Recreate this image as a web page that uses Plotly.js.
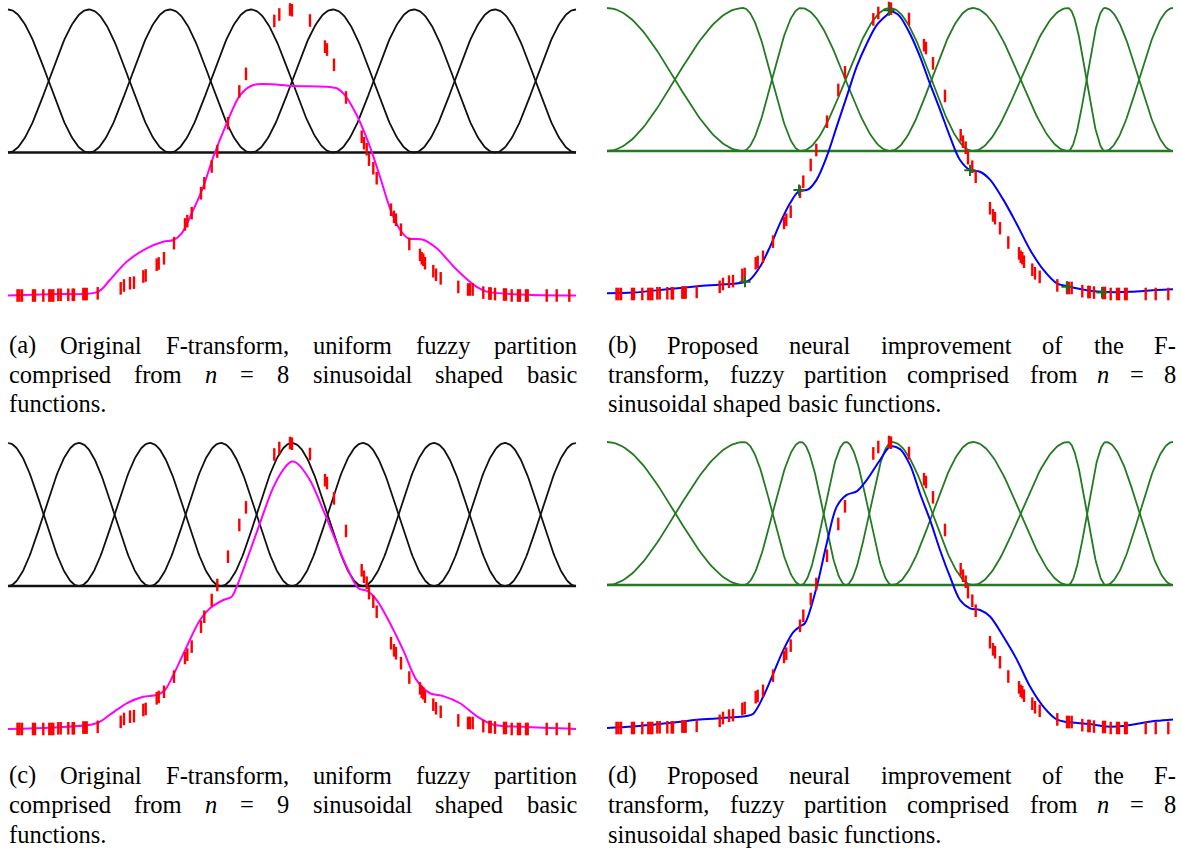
<!DOCTYPE html>
<html>
<head>
<meta charset="utf-8">
<script src="https://cdn.plot.ly/plotly-3.0.1.min.js"></script>
<style>
  html, body { margin: 0; padding: 0; background: #ffffff; }
  #fig { width: 1181px; height: 853px; }
</style>
</head>
<body>
<div id="fig"></div>
<script>
// ---------------- data ----------------
// Measured samples (same signal in every panel)
const sampleX = [9.5, 11.5, 14, 25, 27, 35.3, 41.3, 43.3, 45.3, 50.3, 52.7, 60.3, 64.7, 66, 75.3, 77, 78.7, 89.7,
  112.7, 116, 122, 126, 135.3, 137.7, 148.7, 150.7, 156, 166, 177, 179.3, 183.7, 193, 196.3, 203.7, 209.3, 220, 231.3, 238, 266.3, 271.3, 282, 284,
  302, 317, 319, 326, 338, 353.7, 356, 358.7, 361, 365.3, 368.7, 383, 386, 388, 393, 401.3, 412, 413.7, 415.3, 417, 425.3, 428, 432.7, 450.3,
  460, 462, 464.7, 475.3, 481.3, 482.7, 487, 496, 498, 503.7, 510, 512, 518, 519.7, 538.7, 548.7, 561.3];
const sampleY = [-1, -1, -1, -1, -1, -1, -1, -1, -1, -0.995, -0.995, -0.995, -0.995, -0.995, -0.99, -0.99, -0.99, -0.985,
  -0.95, -0.93, -0.914, -0.91, -0.867, -0.86, -0.785, -0.776, -0.74, -0.634, -0.503, -0.48, -0.424, -0.285, -0.215, -0.098, 0.007, 0.205, 0.427, 0.55, 0.92, 0.965, 1.0, 0.995,
  0.923, 0.74, 0.72, 0.613, 0.385, 0.11, 0.065, 0.023, -0.05, -0.11, -0.18, -0.40, -0.45, -0.47, -0.54, -0.64, -0.716, -0.74, -0.75, -0.774, -0.83, -0.855, -0.88, -0.94,
  -0.958, -0.958, -0.958, -0.98, -0.986, -0.986, -0.99, -0.993, -0.993, -1, -1, -1, -1, -1, -1, -1, -1];

// Partition nodes (peaks of the sinusoidal basic functions)
const nodesA = [0, 81, 162, 243, 325, 406, 487, 568];
const nodesB = [0, 136, 194, 283, 366, 461, 498, 566];
const nodesC = [0, 71, 142, 213, 284, 355, 426, 497, 568];
const nodesD = [0, 137, 194, 239, 285, 366, 461, 499, 566];

// Reconstructed signal, panel (a): original F-transform, n = 8
const fitAx = [0, 45, 90, 102, 118.7, 138.7, 155.3, 165.3, 173.7, 183.7, 195.3, 205.3, 218.7, 232, 245.3, 285.3, 328.7, 337, 348.7, 362, 372, 382, 392, 400.3, 415.3, 428.7, 448.7, 468.7, 478.7, 520, 568];
const fitAy = [-1.0, -0.99, -0.975, -0.89, -0.764, -0.67, -0.624, -0.612, -0.565, -0.425, -0.24, -0.03, 0.204, 0.40, 0.472, 0.465, 0.449, 0.40, 0.262, 0.04, -0.17, -0.39, -0.54, -0.60, -0.61, -0.67, -0.82, -0.94, -0.973, -0.995, -1.0];

// Panel (b): neural F-transform, n = 8
const fitBx = [0, 26.3, 59.7, 93, 136.3, 143, 153, 163, 173, 183, 191.3, 201.3, 209.7, 219.7, 229.7, 239.7, 249.7, 259.7, 269.7, 279.7, 284, 288, 293, 303, 313, 323, 333, 343, 353, 363, 373, 383, 396.3, 409.7, 423, 436.3, 449.7, 459.7, 483, 499.7, 523, 549.7, 566];
const fitBy = [-0.995, -0.99, -0.967, -0.944, -0.92, -0.90, -0.81, -0.67, -0.506, -0.366, -0.285, -0.268, -0.20, -0.04, 0.17, 0.38, 0.59, 0.75, 0.88, 0.95, 0.975, 0.967, 0.94, 0.82, 0.66, 0.47, 0.29, 0.10, -0.063, -0.133, -0.145, -0.20, -0.34, -0.51, -0.69, -0.83, -0.925, -0.944, -0.977, -0.986, -0.985, -0.972, -0.967];
// F-transform components marked on panel (b)
const compBx = [138, 192, 282, 363, 460, 495];
const compBy = [-0.914, -0.273, 0.985, -0.135, -0.95, -0.99];

// Panel (c): original F-transform, n = 9
const fitCx = [0, 45, 88.7, 102, 118.7, 135.3, 148.7, 157, 165.3, 178.7, 192, 202, 215.3, 223.7, 228.7, 238.7, 252, 265.3, 277, 284, 288.7, 302, 315.3, 328.7, 340.3, 350.3, 358.7, 368.7, 382, 395.3, 408.7, 422, 435.3, 452, 468.7, 485.3, 515.3, 568];
const fitCy = [-1.0, -0.99, -0.96, -0.90, -0.82, -0.775, -0.762, -0.727, -0.622, -0.424, -0.238, -0.156, -0.098, -0.075, -0.005, 0.18, 0.44, 0.69, 0.83, 0.87, 0.86, 0.74, 0.53, 0.30, 0.11, -0.016, -0.033, -0.098, -0.26, -0.45, -0.66, -0.75, -0.77, -0.82, -0.91, -0.97, -0.985, -1.0];

// Panel (d): neural F-transform
const fitDx = [0, 26.3, 59.7, 93, 139.7, 146.3, 156.3, 166.3, 176.3, 186.3, 193, 198, 209.7, 219.7, 229.7, 239.7, 249.7, 259.7, 273, 283, 293, 303, 313, 323, 333, 343, 353, 363, 373, 383, 396.3, 409.7, 423, 436.3, 449.7, 459.7, 483, 499.7, 516.3, 536.3, 549.7, 566];
const fitDy = [-1.0, -0.99, -0.967, -0.94, -0.916, -0.90, -0.78, -0.62, -0.455, -0.33, -0.29, -0.266, -0.012, 0.29, 0.548, 0.63, 0.655, 0.734, 0.874, 0.967, 0.95, 0.84, 0.64, 0.455, 0.245, 0.058, -0.105, -0.163, -0.175, -0.22, -0.36, -0.52, -0.71, -0.85, -0.94, -0.958, -0.972, -0.99, -0.986, -0.963, -0.95, -0.94];

// Captions (one entry per printed line)
const captionA = ["(a) Original F-transform, uniform fuzzy partition", "comprised from <i>n</i> = 8 sinusoidal shaped basic", "functions."];
const captionB = ["(b) Proposed neural improvement of the F-", "transform, fuzzy partition comprised from <i>n</i> = 8", "sinusoidal shaped basic functions."];
const captionC = ["(c) Original F-transform, uniform fuzzy partition", "comprised from <i>n</i> = 9 sinusoidal shaped basic", "functions."];
const captionD = ["(d) Proposed neural improvement of the F-", "transform, fuzzy partition comprised from <i>n</i> = 8", "sinusoidal shaped basic functions."];

// ---------------- drawing ----------------
const W = 1181, H = 853;
const UNIT = 143;            // pixels per unit of the value axis
const Y_RANGE = [-1.12, 1.05];
const BLACK = '#111111', GREEN = '#237a23', MAGENTA = '#ff00ff', BLUE = '#0000ff', RED = '#ff0000';

// sinusoidal basic functions over a (possibly non-uniform) set of nodes
function basicFunctions(nodes, steps) {
  const out = [];
  for (let k = 0; k < nodes.length; k++) {
    const xs = [], ys = [];
    if (k > 0) {
      const a = nodes[k - 1], b = nodes[k];
      for (let i = 0; i <= steps; i++) {
        const t = i / steps;
        xs.push(a + t * (b - a)); ys.push(0.5 * (1 - Math.cos(Math.PI * t)));
      }
    }
    if (k < nodes.length - 1) {
      const a = nodes[k], b = nodes[k + 1];
      for (let i = (k > 0 ? 1 : 0); i <= steps; i++) {
        const t = i / steps;
        xs.push(a + t * (b - a)); ys.push(0.5 * (1 + Math.cos(Math.PI * t)));
      }
    }
    out.push({ xs, ys });
  }
  return out;
}

const panels = [
  { id: '',  nodes: nodesA, basisColor: BLACK, fx: fitAx, fy: fitAy, fitColor: MAGENTA, left: 8,   base: 152.5, caption: captionA, capTop: 345 },
  { id: '2', nodes: nodesB, basisColor: GREEN, fx: fitBx, fy: fitBy, fitColor: BLUE,    left: 607, base: 151,   caption: captionB, capTop: 345, cx: compBx, cy: compBy },
  { id: '3', nodes: nodesC, basisColor: BLACK, fx: fitCx, fy: fitCy, fitColor: MAGENTA, left: 8,   base: 586,   caption: captionC, capTop: 775 },
  { id: '4', nodes: nodesD, basisColor: GREEN, fx: fitDx, fy: fitDy, fitColor: BLUE,    left: 607, base: 585,   caption: captionD, capTop: 775 }
];

const traces = [];
const layout = {
  width: W, height: H,
  margin: { l: 0, r: 0, t: 0, b: 0 },
  paper_bgcolor: '#ffffff', plot_bgcolor: 'rgba(0,0,0,0)',
  showlegend: false,
  annotations: []
};

panels.forEach(p => {
  const xa = 'x' + p.id, ya = 'y' + p.id;
  const span = p.nodes[p.nodes.length - 1];
  const pad = 6;
  layout['xaxis' + p.id] = {
    domain: [(p.left - pad) / W, (p.left + span + pad) / W],
    range: [-pad, span + pad], visible: false, fixedrange: true, anchor: ya
  };
  const topPx = p.base - Y_RANGE[1] * UNIT, botPx = p.base - Y_RANGE[0] * UNIT;
  layout['yaxis' + p.id] = {
    domain: [1 - botPx / H, 1 - topPx / H],
    range: Y_RANGE, visible: false, fixedrange: true, anchor: xa
  };

  // zero line of the partition
  traces.push({ x: [0, span], y: [0, 0], xaxis: xa, yaxis: ya, mode: 'lines',
    line: { color: p.basisColor, width: 2.4 }, hoverinfo: 'skip' });
  // basic functions
  basicFunctions(p.nodes, 60).forEach(f => {
    traces.push({ x: f.xs, y: f.ys, xaxis: xa, yaxis: ya, mode: 'lines',
      line: { color: p.basisColor, width: 1.8 }, hoverinfo: 'skip' });
  });
  // reconstruction
  traces.push({ x: p.fx, y: p.fy, xaxis: xa, yaxis: ya, mode: 'lines',
    line: { color: p.fitColor, width: 2, shape: 'spline', smoothing: 0.9 } });
  // samples
  traces.push({ x: sampleX, y: sampleY, xaxis: xa, yaxis: ya, mode: 'markers', cliponaxis: false,
    marker: { symbol: 'line-ns', size: 9, color: RED, line: { color: RED, width: 2.4 } } });
  if (p.cx) {
    traces.push({ x: p.cx, y: p.cy, xaxis: xa, yaxis: ya, mode: 'markers', cliponaxis: false,
      marker: { symbol: 'cross-thin', size: 8, color: '#1b6e1b', line: { color: '#1b6e1b', width: 2 } } });
  }
});

// ---------- justified captions ----------
const FONT = 'Liberation Serif';
const FS = 24.5, LINE = 29.5;
const ctx = document.createElement('canvas').getContext('2d');
function measure(word) {
  const italic = /<i>/.test(word);
  const plain = word.replace(/<\/?i>/g, '');
  ctx.font = (italic ? 'italic ' : '') + FS + 'px "' + FONT + '"';
  return ctx.measureText(plain).width;
}
panels.forEach(p => {
  const x0 = p.left, x1 = p.left + 568;
  p.caption.forEach((line, i) => {
    const words = line.split(' ');
    const widths = words.map(measure);
    const last = i === p.caption.length - 1;
    const total = widths.reduce((a, b) => a + b, 0);
    const space = measure(' ');
    const gap = (!last && words.length > 1) ? (x1 - x0 - total) / (words.length - 1) : space;
    let x = x0;
    const cy = p.capTop + i * LINE;
    words.forEach((w, j) => {
      layout.annotations.push({
        xref: 'paper', yref: 'paper', x: x / W, y: 1 - cy / H,
        xanchor: 'left', yanchor: 'middle', showarrow: false, borderpad: 0,
        text: w, font: { family: FONT, size: FS, color: '#000000' }
      });
      x += widths[j] + gap;
    });
  });
});

Plotly.newPlot('fig', traces, layout, { displayModeBar: false, staticPlot: true });
</script>
</body>
</html>
